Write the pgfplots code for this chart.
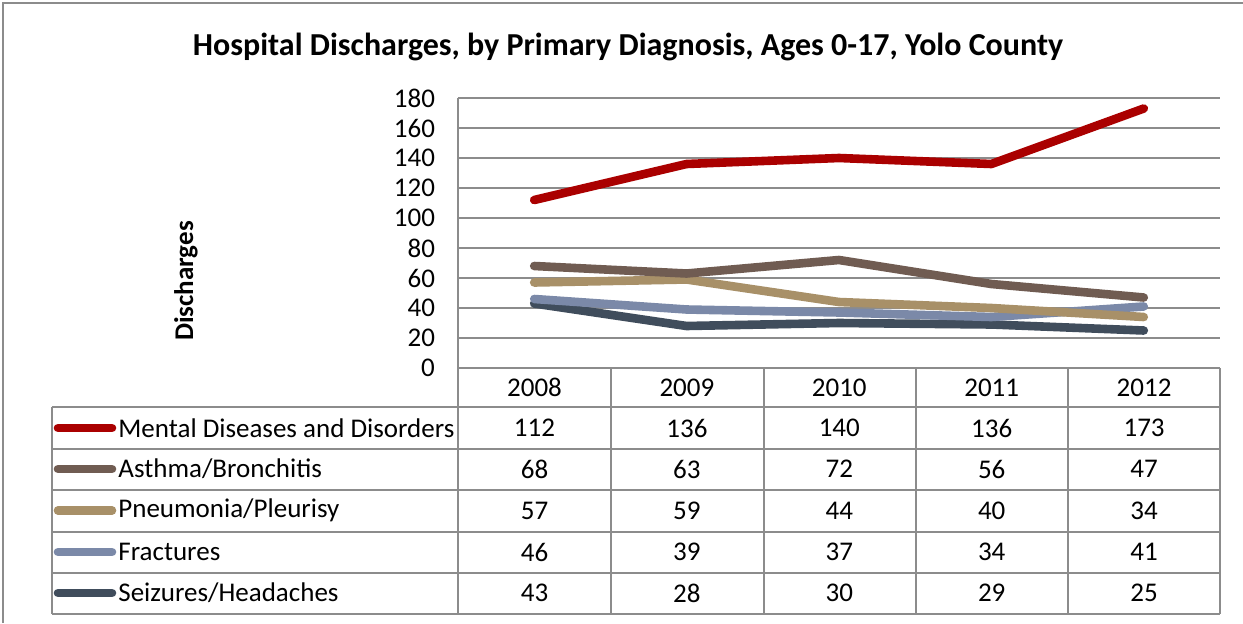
\documentclass[border=0pt]{standalone}
\usepackage{pgfplots}
\pgfplotsset{compat=1.18}
\usepackage{fontspec}
\setmainfont{Carlito}

\definecolor{cMental}{HTML}{AA0000}
\definecolor{cAsthma}{HTML}{705C52}
\definecolor{cPneu}{HTML}{A89068}
\definecolor{cFract}{HTML}{7B89A8}
\definecolor{cSeiz}{HTML}{404D5C}
\definecolor{gridgray}{HTML}{8C8C8C}

\begin{document}
\begin{tikzpicture}
% 1 px of the reference = 0.5pt; axis origin sits at px (458,368)
\useasboundingbox (-229pt,-127.5pt) rectangle (392.5pt,184pt);
\begin{axis}[
    at={(0,0)}, anchor=south west,
    scale only axis, width=381pt, height=135pt,
    xmin=-0.5, xmax=4.5, ymin=0, ymax=180,
    ytick distance=20, xtick=\empty,
    axis x line=none, axis y line*=left,
    y axis line style={gridgray, line width=1pt, -},
    ymajorgrids, grid style={gridgray, line width=1pt},
    major tick length=0pt,
    tick label style={font=\fontsize{13.5}{13.5}\selectfont},
    /pgf/number format/assume math mode=true,
    yticklabel style={xshift=-8pt},
    clip=false,
    every axis plot/.append style={line width=4.3pt, line cap=round, line join=round, mark=none},
]
\addplot[cSeiz]   coordinates {(0,43) (1,28) (2,30) (3,29) (4,25)};
\addplot[cFract]  coordinates {(0,46) (1,39) (2,37) (3,34) (4,41)};
\addplot[cPneu]   coordinates {(0,57) (1,59) (2,44) (3,40) (4,34)};
\addplot[cAsthma] coordinates {(0,68) (1,63) (2,72) (3,56) (4,47)};
\addplot[cMental] coordinates {(0,112) (1,136) (2,140) (3,136) (4,173)};
\end{axis}

\begin{scope}[x=0.5pt, y=-0.5pt, shift={(-229pt,184pt)}]
  % outer chart frame (cropped at right and bottom)
  \draw[gridgray, line width=1pt] (3,623) -- (3,3) -- (1243,3);
  % title and y label
  \node[font=\fontsize{16}{16}\selectfont\bfseries] at (628,47)
    {Hospital Discharges, by Primary Diagnosis, Ages 0-17, Yolo County};
  \node[font=\fontsize{13.5}{13.5}\selectfont\bfseries, rotate=90] at (186,281) {Discharges};
  % data table grid
  \begin{scope}[gridgray, line width=1pt]
    \draw (458,368) -- (1220,368);
    \foreach \yy in {407,449,490,532,573,614} \draw (52,\yy) -- (1220,\yy);
    \draw (52,407) -- (52,614);
    \draw (458,368) -- (458,614);
    \foreach \xx in {611,764,916,1068,1220} \draw (\xx,368) -- (\xx,614);
  \end{scope}
  % table text
  \begin{scope}[font=\fontsize{13.5}{13.5}\selectfont]
    \foreach \yr [count=\i from 0] in {2008,2009,2010,2011,2012}
      \node at (534.5+152.4*\i,387.5) {\yr};
    \foreach \nm/\cl/\rowy/\vals in {
        Mental Diseases and Disorders/cMental/428/{112,136,140,136,173},
        Asthma\slash Bronchitis/cAsthma/469/{68,63,72,56,47},
        Pneumonia\slash Pleurisy/cPneu/510.5/{57,59,44,40,34},
        Fractures/cFract/552/{46,39,37,34,41},
        Seizures\slash Headaches/cSeiz/593/{43,28,30,29,25}} {
      \draw[\cl, line width=4.3pt, line cap=round] (58,\rowy) -- (112,\rowy);
      \node[anchor=west, inner sep=0pt] at (118,\rowy) {\nm};
      \foreach \v [count=\j from 0] in \vals
        \node at (534.5+152.4*\j,\rowy) {\v};
    }
  \end{scope}
\end{scope}
\end{tikzpicture}
\end{document}
